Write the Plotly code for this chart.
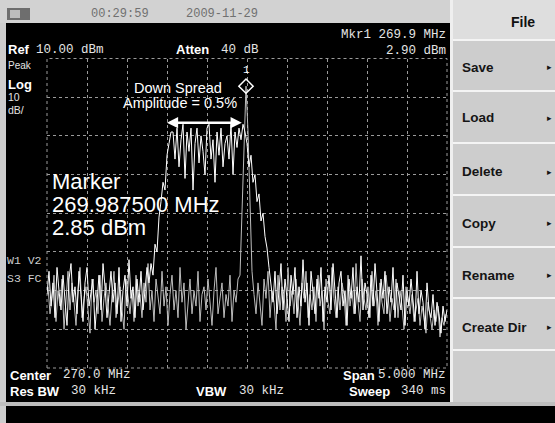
import plotly.graph_objects as go

W, H = 555, 423

# ---- analyzer settings ----
REF_DBM = 10.0
DB_PER_DIV = 10.0
N_YDIV = 8
CENTER_MHZ = 270.0
SPAN_MHZ = 5.0
F_START = CENTER_MHZ - SPAN_MHZ / 2
F_STEP = 0.025  # MHz between sweep points

MARKER_MHZ = 269.9875
MARKER_DBM = 2.85

# ---- trace 1 (write): spread-spectrum clock, dBm ----
t1_noise_low = [
    -51, -45, -54, -48, -57, -44, -50, -55, -46, -52,
    -59, -47, -43, -53, -49, -56, -45, -51, -58, -48,
    -44, -54, -50, -47, -60, -52, -46, -55, -43, -49,
    -57, -51, -45, -53, -48, -56, -44, -58, -50, -46,
    -54, -42, -52, -49, -57, -47, -53, -45, -55, -50,
    -44, -48,
]
t1_rise = [-43, -46, -38, -40, -31, -27, -22, -24, -15, -12, -9]
t1_plateau = [
    -9, -16, -8, -18, -11, -7, -21, -9, -14, -8,
    -24, -12, -8, -17, -10, -14, -20, -8, -7, -16,
    -11, -22, -9, -15, -8, -18, -12, -10, -16, -7,
    -20, -9, -13, -8, -11, -7, -9, -12,
]
t1_fall = [-18, -15, -22, -20, -27, -25, -32, -30, -36, -39, -44]
t1_noise_high = [
    -48, -53, -45, -56, -50, -43, -55, -47, -52, -58,
    -46, -51, -44, -57, -49, -54, -42, -53, -48, -59,
    -45, -50, -56, -47, -52, -44, -58, -49, -53, -46,
    -55, -43, -51, -57, -48, -45, -54, -50, -59, -47,
    -52, -44, -56, -49, -53, -41, -55, -48, -51, -57,
    -46, -54, -43, -50, -58, -47, -52, -45, -56, -49,
    -53, -44, -57, -48, -51, -55, -46, -59, -50, -54,
    -47, -52, -58, -45, -56, -50, -53, -60, -48, -55,
    -57, -51, -59, -53, -56, -61, -54, -58, -55,
]

# ---- trace 2 (view): unspread carrier, sampled half a step later ----
t2_noise_low = [
    -49, -56, -52, -46, -58, -50, -54, -47, -60, -51,
    -45, -55, -48, -53, -59, -50, -44, -57, -52, -49,
    -55, -61, -47, -53, -50, -56, -46, -58, -52, -48,
    -54, -59, -51, -45, -57, -53, -49, -55, -60, -47,
    -52, -56, -50, -58, -46, -54, -51, -57, -48, -53,
    -43, -55, -50, -58, -47, -52, -56, -45, -54, -49,
    -59, -51, -46, -55, -50, -57, -44, -53, -48, -60,
    -52, -47, -56, -50, -54, -45, -58, -51, -49, -55,
    -47, -53, -59, -50, -44, -56, -52, -48, -57, -51,
    -54, -46, -58, -50, -53, -47,
]
t2_carrier = [-46, -30, -11, MARKER_DBM, -9, -26, -45]
t2_noise_high = [
    -51, -56, -48, -54, -59, -47, -52, -45, -57, -50,
    -53, -60, -46, -55, -49, -51, -58, -44, -54, -50,
    -56, -47, -53, -59, -48, -52, -45, -57, -51, -55,
    -49, -58, -46, -54, -50, -60, -47, -53, -56, -44,
    -52, -57, -49, -55, -48, -51, -59, -46, -54, -50,
    -56, -43, -53, -58, -47, -52, -55, -49, -57, -45,
    -54, -50, -59, -48, -53, -56, -46, -51, -58, -52,
    -55, -47, -57, -50, -54, -60, -49, -53, -56, -51,
    -58, -55, -52, -59, -54, -57, -61, -53, -56, -60,
    -55, -58, -54, -62, -57, -59, -56,
]

t1_dbm = t1_noise_low + t1_rise + t1_plateau + t1_fall + t1_noise_high
t1_mhz = [F_START + F_STEP * i for i in range(len(t1_dbm))]
t2_dbm = t2_noise_low + t2_carrier + t2_noise_high
t2_mhz = [F_START + F_STEP * (i + 0.5) for i in range(len(t2_dbm))]

SANS = "Liberation Sans, Arial, sans-serif"
MONO = "Liberation Mono, DejaVu Sans Mono, monospace"


def px(x):
    return x / W


def py(y):
    return 1 - y / H


shapes = []
annotations = []


def rect(x0, y0, x1, y1, fill, line_color=None, width=0, dash=None):
    shapes.append(dict(
        type="rect", xref="paper", yref="paper", layer="below",
        x0=px(x0), x1=px(x1), y0=py(y1), y1=py(y0),
        fillcolor=fill,
        line=dict(color=line_color or fill, width=width, dash=dash),
    ))


def hline(x0, x1, y, color, width=1):
    shapes.append(dict(
        type="line", xref="paper", yref="paper", layer="below",
        x0=px(x0), x1=px(x1), y0=py(y), y1=py(y),
        line=dict(color=color, width=width),
    ))


def label(x, y, text, size=12, color="white", family=SANS, weight="normal",
          xanchor="left"):
    annotations.append(dict(
        x=px(x), y=py(y), xref="paper", yref="paper", text=text,
        showarrow=False, xanchor=xanchor, yanchor="middle", borderpad=0,
        font=dict(size=size, color=color, family=family, weight=weight),
    ))


# ---- frame: title bar, screen, softkey panel ----
rect(0, 0, W, 23, "#d2d2d2")
rect(7, 8, 30, 20, "#6e6e6e")
rect(10, 10, 20, 18, "#bdbdbd")
rect(6, 23, 450, 402, "#000000")
rect(450, 0, 453, 402, "#efefef")
rect(453, 0, W, 40, "#dedede")
for y_sep in [40, 91, 143, 195, 247, 298, 350]:
    hline(453, W, y_sep, "#f4f4f4", 2)
rect(0, 402, W, 406, "#bdbdbd")
rect(6, 406, W, H, "#000000")

# ---- title bar ----
label(120, 14, "00:29:59", 12, "#707070", MONO, xanchor="center")
label(222, 14, "2009-11-29", 12, "#707070", MONO, xanchor="center")

# ---- softkeys ----
label(523, 22, "File", 14, "#111111", SANS, "bold", "center")
for y_key, key in [(67, "Save"), (118, "Load"), (172, "Delete"),
                   (223, "Copy"), (275, "Rename"), (327, "Create Dir")]:
    label(461, y_key, key, 13.5, "#151515", SANS, "bold")
    label(553, y_key, "\u25b8", 9, "#151515", SANS, xanchor="right")

# ---- screen annotations ----
VAL = "#e4e4e4"
label(7, 50, "Ref", 13, "white", SANS, "bold")
label(35, 50, "10.00 dBm", 12.5, VAL, MONO)
label(175, 50, "Atten", 13, "white", SANS, "bold")
label(220, 50, "40 dB", 12.5, VAL, MONO)
label(447, 35, "Mkr1 269.9 MHz", 12.5, VAL, MONO, xanchor="right")
label(447, 51, "2.90 dBm", 12.5, VAL, MONO, xanchor="right")
label(7, 65, "Peak", 10, VAL, SANS)
label(7, 85, "Log", 13, "white", SANS, "bold")
label(7, 97, "10", 10.5, VAL, SANS)
label(7, 110, "dB/", 10.5, VAL, SANS)
label(6, 260, "W1 V2", 11.5, "#cfcfcf", MONO)
label(6, 278, "S3 FC", 11.5, "#cfcfcf", MONO)
label(9, 375, "Center", 13, "white", SANS, "bold")
label(62, 375, f"{CENTER_MHZ:.1f} MHz", 12.5, VAL, MONO)
label(9, 391, "Res BW", 13, "white", SANS, "bold")
label(70, 391, "30 kHz", 12.5, VAL, MONO)
label(195, 391, "VBW", 13, "white", SANS, "bold")
label(238, 391, "30 kHz", 12.5, VAL, MONO)
label(342, 375, "Span", 13, "white", SANS, "bold")
label(447, 375, f"{SPAN_MHZ:.3f} MHz", 12.5, VAL, MONO, xanchor="right")
label(348, 391, "Sweep", 13, "white", SANS, "bold")
label(447, 391, "340 ms", 12.5, VAL, MONO, xanchor="right")

label(178, 88, "Down Spread", 14.5, "white", SANS, xanchor="center")
label(180, 103, "Amplitude = 0.5%", 14.5, "white", SANS, xanchor="center")

label(51, 182, "Marker", 22, "white", SANS)
label(51, 204, f"{MARKER_MHZ:.6f} MHz", 22, "white", SANS)
label(51, 227, f"{MARKER_DBM:.2f} dBm", 22, "white", SANS)

# spread-width arrow and marker number, in data coordinates
annotations.append(dict(
    x=269.935, y=-6.6, ax=268.98, ay=-6.6, xref="x", yref="y",
    axref="x", ayref="y", text="", showarrow=True, arrowside="end+start",
    arrowhead=2, arrowsize=0.9, arrowwidth=2.5, arrowcolor="white",
))
annotations.append(dict(
    x=MARKER_MHZ, y=MARKER_DBM, xref="x", yref="y", text="1",
    showarrow=False, yshift=16, font=dict(size=11, color="white", family=MONO),
))

fig = go.Figure()
fig.add_trace(go.Scatter(
    x=t2_mhz, y=t2_dbm, mode="lines",
    line=dict(color="#bdbdbd", width=1), hoverinfo="skip",
))
fig.add_trace(go.Scatter(
    x=t1_mhz, y=t1_dbm, mode="lines",
    line=dict(color="#ffffff", width=1), hoverinfo="skip",
))
fig.add_trace(go.Scatter(
    x=[MARKER_MHZ], y=[MARKER_DBM], mode="markers",
    marker=dict(symbol="diamond-open", size=11, color="white",
                line=dict(color="white", width=1.5)),
    cliponaxis=False, hoverinfo="skip",
))

# dotted outer graticule
shapes.append(dict(
    type="rect", xref="x domain", yref="y domain", layer="below",
    x0=0, x1=1, y0=0, y1=1, line=dict(color="#9a9a9a", width=1, dash="dot"),
))

fig.update_layout(
    width=W, height=H, margin=dict(l=0, r=0, t=0, b=0),
    paper_bgcolor="#cdcdcd", plot_bgcolor="#000000",
    showlegend=False, shapes=shapes, annotations=annotations,
    xaxis=dict(
        domain=[px(47), px(447)],
        range=[F_START, F_START + SPAN_MHZ],
        tick0=F_START, dtick=SPAN_MHZ / 10,
        showticklabels=False, ticks="", zeroline=False, showline=False,
        showgrid=True, gridcolor="#9a9a9a", griddash="dot", gridwidth=1,
        fixedrange=True,
    ),
    yaxis=dict(
        domain=[py(368), py(58.5)],
        range=[REF_DBM - DB_PER_DIV * N_YDIV, REF_DBM],
        tick0=REF_DBM, dtick=DB_PER_DIV,
        showticklabels=False, ticks="", zeroline=False, showline=False,
        showgrid=True, gridcolor="#9a9a9a", griddash="dot", gridwidth=1,
        fixedrange=True,
    ),
)

fig.write_html("out.html")
